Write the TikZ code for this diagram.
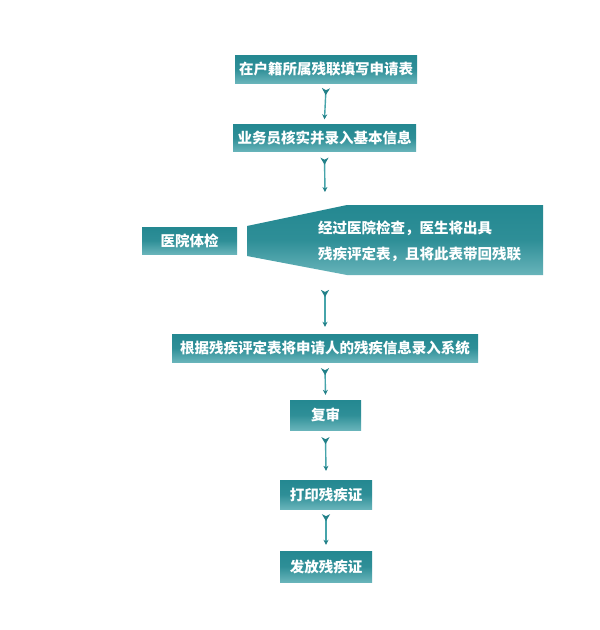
\documentclass[tikz,border=0pt]{standalone}
\usepackage{fontspec}
\newfontfamily\cjk{Noto Sans CJK SC}
\usetikzlibrary{arrows.meta}
\definecolor{tealtop}{RGB}{36,136,145}
\definecolor{tealbot}{RGB}{104,180,186}
\definecolor{linec}{RGB}{70,164,170}
\definecolor{tipc}{RGB}{34,128,136}
\tikzset{
  stepbox/.style={rectangle, inner sep=0pt, top color=tealtop, bottom color=tealbot, middle color=tealtop!85!tealbot,
    text=white, font=\cjk\bfseries\fontsize{14.5}{17}\selectfont, anchor=center},
  flow/.style={draw=linec, line width=1.4pt,
    {Stealth[reversed, length=7pt, width=8pt, inset=2pt, color=tipc]}-{Stealth[length=5pt, width=5pt, color=tipc]}},
  calltext/.style={text=white, font=\cjk\bfseries\fontsize{14.5}{17}\selectfont, anchor=west, inner sep=0pt}
}
\begin{document}
\begin{tikzpicture}[x=1pt,y=-1pt]
\useasboundingbox (0,0) rectangle (600,630);
\fill[white] (0,0) rectangle (600,630);

\node[stepbox, minimum width=182pt, minimum height=28pt] (b1) at (326,69) {在户籍所属残联填写申请表};
\node[stepbox, minimum width=183pt, minimum height=27pt] (b2) at (324.5,138) {业务员核实并录入基本信息};
\node[stepbox, minimum width=95pt, minimum height=27pt] (b3) at (189.5,240.5) {医院体检};

\shade[top color=tealtop, bottom color=tealbot, middle color=tealtop!85!tealbot]
  (247,226) -- (347,205) -- (543,205) -- (543,275) -- (347,275) -- (247,256) -- cycle;
\coordinate (ct) at (325,205);
\coordinate (cb) at (325,275);
\node[calltext] (t1) at (318,228) {经过医院检查，医生将出具};
\node[calltext] (t2) at (318,254) {残疾评定表，且将此表带回残联};

\node[stepbox, minimum width=306pt, minimum height=28pt] (b4) at (325,348) {根据残疾评定表将申请人的残疾信息录入系统};
\node[stepbox, minimum width=71pt, minimum height=30pt] (b5) at (325.5,415) {复审};
\node[stepbox, minimum width=92pt, minimum height=29pt] (b6) at (326,494.5) {打印残疾证};
\node[stepbox, minimum width=92pt, minimum height=31pt] (b7) at (326,566.5) {发放残疾证};

\draw[flow] ([yshift=-5pt]b1.south) -- ([yshift=5pt]b2.north);
\draw[flow] ([yshift=-6pt]b2.south) -- ([yshift=13pt]ct);
\draw[flow] ([yshift=-15pt]cb) -- ([yshift=7pt]b4.north);
\draw[flow] ([yshift=-6pt]b4.south) -- ([yshift=5pt]b5.north);
\draw[flow] ([yshift=-7pt]b5.south) -- ([yshift=9pt]b6.north);
\draw[flow] ([yshift=-5pt]b6.south) -- ([yshift=6pt]b7.north);
\end{tikzpicture}
\end{document}
